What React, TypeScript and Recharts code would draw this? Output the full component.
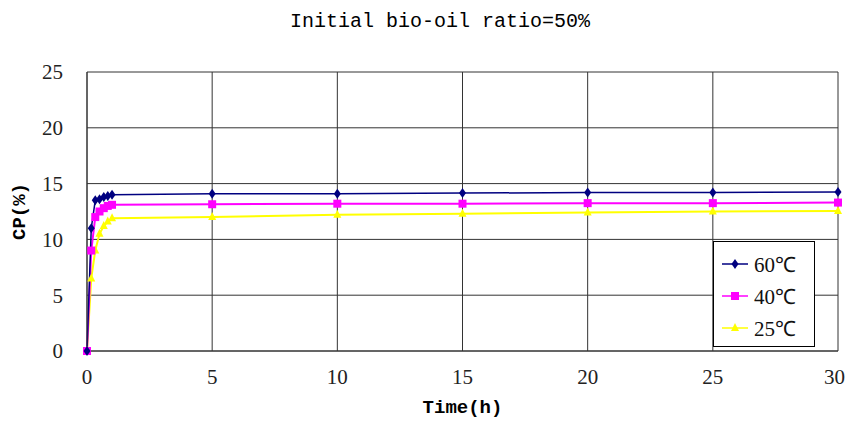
import React from 'react';
import { LineChart, Line, XAxis, YAxis, CartesianGrid } from 'recharts';

const hours = [0, 0.17, 0.33, 0.5, 0.67, 0.83, 1, 5, 10, 15, 20, 25, 30];
const cp60 = [0, 11, 13.5, 13.6, 13.8, 13.9, 14.0, 14.1, 14.1, 14.15, 14.2, 14.2, 14.25];
const cp40 = [0, 9, 12, 12.5, 12.8, 13, 13.1, 13.15, 13.2, 13.2, 13.25, 13.25, 13.3];
const cp25 = [0, 6.5, 9, 10.5, 11.2, 11.6, 11.9, 12.0, 12.2, 12.3, 12.4, 12.5, 12.55];
const xTicks = [0, 5, 10, 15, 20, 25, 30];
const yTicks = [0, 5, 10, 15, 20, 25];

const data = hours.map((t, i) => ({ t, a: cp60[i], b: cp40[i], c: cp25[i] }));

const NAVY = '#000080';
const MAGENTA = '#ff00ff';
const YELLOW = '#ffff00';

const Diamond = (props: any) => {
  const { cx, cy } = props;
  if (cx == null || cy == null) return null;
  return <path d={`M${cx},${cy - 5}L${cx + 3.5},${cy}L${cx},${cy + 5}L${cx - 3.5},${cy}Z`} fill={NAVY} />;
};

const Square = (props: any) => {
  const { cx, cy } = props;
  if (cx == null || cy == null) return null;
  return <rect x={cx - 4} y={cy - 4} width={8} height={8} fill={MAGENTA} />;
};

const Triangle = (props: any) => {
  const { cx, cy } = props;
  if (cx == null || cy == null) return null;
  return <path d={`M${cx},${cy - 5}L${cx + 4},${cy + 3}L${cx - 4},${cy + 3}Z`} fill={YELLOW} />;
};

const legendItems = [
  { label: '60℃', color: NAVY, Marker: Diamond },
  { label: '40℃', color: MAGENTA, Marker: Square },
  { label: '25℃', color: YELLOW, Marker: Triangle },
];

const tickStyle = { fontFamily: '"Liberation Serif", serif', fontSize: 21, fill: '#222' };

export default function App() {
  return (
    <div style={{ position: 'absolute', left: 0, top: 0, width: 845, height: 423, background: '#fff' }}>
      <div
        style={{
          position: 'absolute',
          top: 10,
          left: 0,
          width: 880,
          textAlign: 'center',
          fontFamily: '"Liberation Mono", monospace',
          fontSize: 20,
          color: '#000',
        }}
      >
        Initial bio-oil ratio=50%
      </div>
      <LineChart width={845} height={423} data={data} margin={{ top: 72, right: 7, bottom: 0, left: 0 }}>
        <CartesianGrid stroke="#333" strokeWidth={1} />
        <XAxis
          dataKey="t"
          type="number"
          domain={[0, 30]}
          ticks={xTicks}
          tick={tickStyle}
          tickLine={false}
          axisLine={{ stroke: '#333' }}
          height={72}
          tickMargin={12}
          label={{
            value: 'Time(h)',
            position: 'insideBottom',
            offset: 10,
            style: { fontFamily: '"Liberation Mono", monospace', fontSize: 19, fontWeight: 'bold', fill: '#000' },
          }}
        />
        <YAxis
          type="number"
          domain={[0, 25]}
          ticks={yTicks}
          tick={tickStyle}
          tickLine={false}
          axisLine={{ stroke: '#333' }}
          width={87}
          tickMargin={18}
          label={{
            value: 'CP(%)',
            angle: -90,
            position: 'insideLeft',
            offset: 18,
            style: { fontFamily: '"Liberation Mono", monospace', fontSize: 19, fontWeight: 'bold', fill: '#000', textAnchor: 'middle' },
          }}
        />
        <Line dataKey="c" stroke={YELLOW} strokeWidth={2} dot={<Triangle />} isAnimationActive={false} />
        <Line dataKey="b" stroke={MAGENTA} strokeWidth={2} dot={<Square />} isAnimationActive={false} />
        <Line dataKey="a" stroke={NAVY} strokeWidth={1.5} dot={<Diamond />} isAnimationActive={false} />
      </LineChart>
      <div
        style={{
          position: 'absolute',
          left: 713,
          top: 241,
          width: 102,
          height: 106,
          border: '1px solid #000',
          background: '#fff',
          boxSizing: 'border-box',
          paddingTop: 6,
        }}
      >
        {legendItems.map(({ label, color, Marker }) => (
          <div key={label} style={{ display: 'flex', alignItems: 'center', height: 32 }}>
            <svg width={32} height={20} style={{ marginLeft: 6 }}>
              <line x1={2} y1={10} x2={28} y2={10} stroke={color} strokeWidth={1.5} />
              <Marker cx={15} cy={10} />
            </svg>
            <span style={{ fontFamily: '"Liberation Serif", serif', fontSize: 21, color: '#111', marginLeft: 2 }}>{label}</span>
          </div>
        ))}
      </div>
    </div>
  );
}
